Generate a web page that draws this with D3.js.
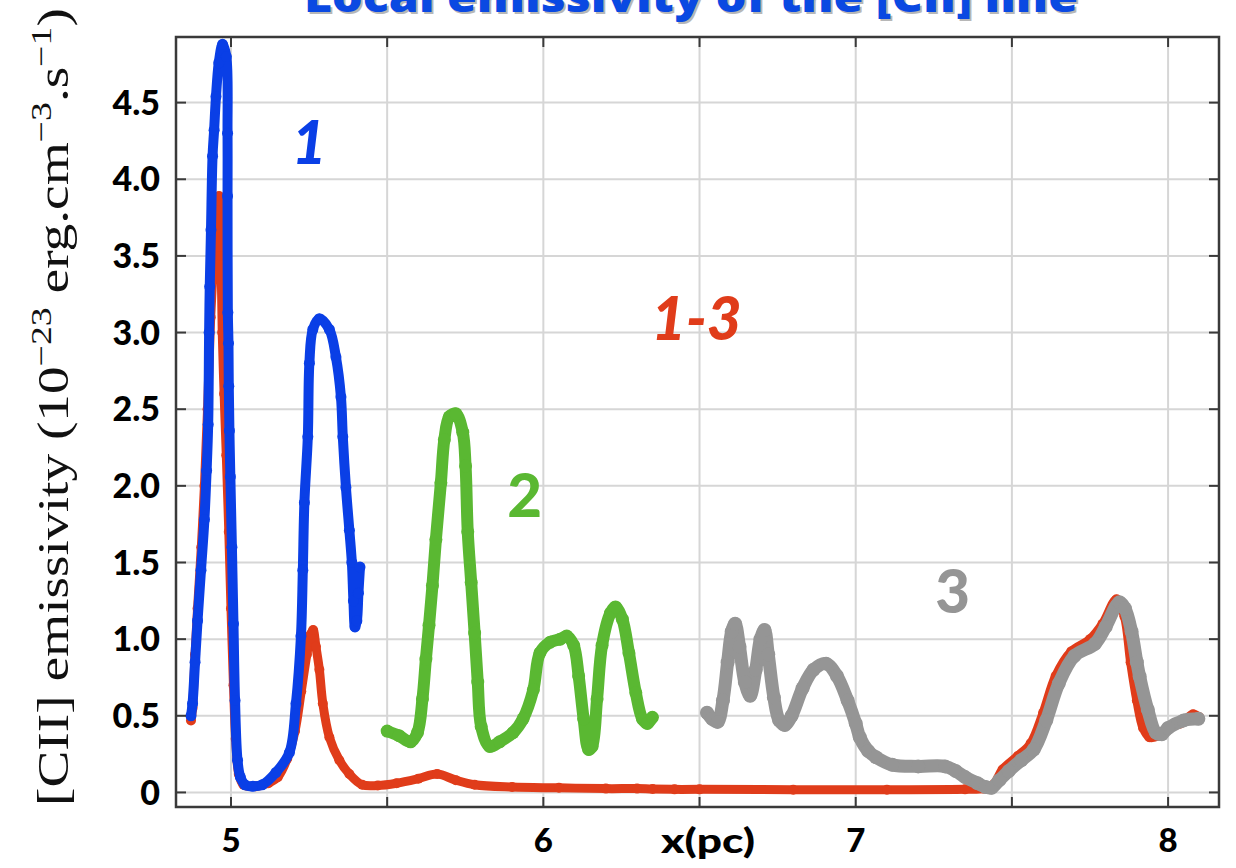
<!DOCTYPE html>
<html>
<head>
<meta charset="utf-8">
<script src="https://cdn.jsdelivr.net/npm/d3@7"></script>
<style>
  html, body { margin: 0; padding: 0; background: #fff; overflow: hidden; }
  svg { display: block; }
</style>
</head>
<body>
<svg id="chart" width="1236" height="868"></svg>
<script>
// ---------- data ----------
const xGridTicks = [5, 5.5, 6, 6.5, 7, 7.5, 8];
const xTickLabels = [5, 6, 7, 8];
const yTicks = [0, 0.5, 1.0, 1.5, 2.0, 2.5, 3.0, 3.5, 4.0, 4.5];
const yTickLabels = ["0", "0.5", "1.0", "1.5", "2.0", "2.5", "3.0", "3.5", "4.0", "4.5"];

// region 1-3 (red, full profile)
const region13 = [
  [4.872,0.47],[4.877,0.55],[4.885,0.9],[4.893,1.2],[4.905,1.6],[4.915,2.0],[4.925,2.5],
  [4.935,3.1],[4.945,3.5],[4.955,3.8],[4.962,3.89],[4.968,3.5],[4.972,3.0],[4.978,2.6],
  [4.985,2.2],[4.993,1.7],[5.0,1.2],[5.008,0.7],[5.015,0.35],[5.025,0.12],[5.04,0.05],
  [5.08,0.04],[5.12,0.06],[5.15,0.1],[5.18,0.22],[5.205,0.4],[5.225,0.66],[5.243,0.9],
  [5.255,1.03],[5.263,1.06],[5.272,0.95],[5.283,0.8],[5.294,0.58],[5.315,0.36],[5.347,0.21],
  [5.379,0.12],[5.42,0.05],[5.47,0.045],[5.53,0.06],[5.6,0.09],[5.66,0.12],[5.72,0.08],
  [5.78,0.05],[5.9,0.035],[6.05,0.03],[6.2,0.025],[6.3,0.025],[6.35,0.022],[6.42,0.02],
  [6.5,0.02],[6.8,0.018],[7.1,0.018],[7.35,0.02],[7.41,0.025],[7.44,0.05],[7.47,0.15],
  [7.52,0.24],[7.56,0.32],[7.60,0.52],[7.64,0.76],[7.69,0.92],[7.75,1.0],[7.79,1.1],
  [7.835,1.26],[7.86,1.15],[7.88,0.85],[7.9,0.6],[7.92,0.42],[7.94,0.36],[7.97,0.37],
  [8.0,0.42],[8.04,0.45],[8.08,0.51],[8.1,0.49]
];

// region 1 (blue)
const region1 = [
  [4.872,0.5],[4.877,0.58],[4.885,0.85],[4.893,1.12],[4.904,1.45],[4.915,1.78],[4.922,2.1],
  [4.927,2.4],[4.93,3.0],[4.932,3.3],[4.936,3.67],[4.941,4.15],[4.946,4.32],[4.952,4.54],
  [4.961,4.76],[4.973,4.88],[4.985,4.8],[4.989,4.3],[4.989,3.89],[4.99,3.13],[4.992,2.93],
  [4.993,2.65],[4.995,2.36],[4.998,2.06],[5.003,1.6],[5.008,1.1],[5.013,0.6],[5.021,0.21],
  [5.03,0.1],[5.045,0.05],[5.07,0.04],[5.1,0.05],[5.144,0.13],[5.187,0.26],[5.208,0.58],
  [5.224,1.02],[5.23,1.45],[5.235,1.89],[5.246,2.32],[5.251,2.8],[5.262,3.02],[5.283,3.09],
  [5.315,3.02],[5.336,2.84],[5.352,2.58],[5.358,2.32],[5.368,1.99],[5.379,1.71],[5.387,1.5],
  [5.392,1.25],[5.397,1.08],[5.403,1.12],[5.408,1.3],[5.413,1.47]
];

// region 2 (green)
const region2 = [
  [5.5,0.40],[5.538,0.37],[5.575,0.33],[5.597,0.39],[5.613,0.61],[5.624,0.87],[5.634,1.09],
  [5.645,1.35],[5.656,1.65],[5.672,2.02],[5.683,2.30],[5.699,2.45],[5.72,2.47],[5.742,2.35],
  [5.751,2.13],[5.758,1.70],[5.769,1.37],[5.78,1.04],[5.79,0.72],[5.801,0.43],[5.828,0.30],
  [5.86,0.33],[5.903,0.39],[5.935,0.48],[5.968,0.67],[5.989,0.91],[6.022,0.98],[6.054,1.0],
  [6.075,1.02],[6.097,0.96],[6.113,0.76],[6.129,0.48],[6.145,0.28],[6.156,0.30],[6.172,0.61],
  [6.188,0.96],[6.215,1.17],[6.231,1.21],[6.253,1.13],[6.274,0.91],[6.296,0.65],[6.317,0.48],
  [6.333,0.45],[6.349,0.49]
];

// region 3 (grey)
const region3 = [
  [6.524,0.52],[6.54,0.48],[6.558,0.46],[6.575,0.6],[6.59,0.85],[6.603,1.05],[6.614,1.1],
  [6.628,0.95],[6.645,0.72],[6.662,0.63],[6.68,0.8],[6.695,1.0],[6.708,1.06],[6.72,0.9],
  [6.738,0.62],[6.755,0.47],[6.773,0.44],[6.795,0.5],[6.83,0.68],[6.865,0.8],[6.905,0.84],
  [6.94,0.76],[6.974,0.6],[7.0,0.45],[7.013,0.36],[7.04,0.27],[7.065,0.23],[7.117,0.18],
  [7.2,0.17],[7.286,0.17],[7.32,0.14],[7.35,0.1],[7.39,0.06],[7.416,0.035],[7.435,0.03],
  [7.46,0.08],[7.49,0.14],[7.53,0.21],[7.57,0.28],[7.61,0.47],[7.65,0.71],[7.70,0.89],
  [7.766,0.97],[7.8,1.08],[7.844,1.24],[7.862,1.2],[7.883,1.05],[7.9,0.85],[7.909,0.756],
  [7.935,0.54],[7.961,0.39],[7.98,0.38],[8.0,0.42],[8.05,0.47],[8.097,0.48]
];

const regionLabels = [
  {text: "1",   x: 5.25,  y: 4.1,  color: "#0a3fe6", italic: true},
  {text: "1-3", x: 6.49,  y: 2.95, color: "#e03c1a", italic: true},
  {text: "2",   x: 5.94,  y: 1.8,  color: "#5ab832", italic: false},
  {text: "3",   x: 7.31,  y: 1.17, color: "#959595", italic: false}
];

// ---------- layout ----------
const svg = d3.select("#chart");
const frame = {left: 176, right: 1219, top: 37, bottom: 807};
const x = d3.scaleLinear().domain([4.824, 8.163]).range([frame.left, frame.right]);
const y = d3.scaleLinear().domain([-0.095, 4.928]).range([frame.bottom, frame.top]);

// title (partly cut off at top, as in the reference)
const titleText = "Local emissivity of the [CII] line";
svg.append("text").attr("x", 693).attr("y", 14)
  .attr("text-anchor", "middle").attr("font-family", "Open Sans, sans-serif")
  .attr("font-weight", 800).attr("font-size", 42)
  .attr("textLength", 774).attr("lengthAdjust", "spacingAndGlyphs")
  .attr("fill", "#888").attr("opacity", 0.6).text(titleText);
svg.append("text").attr("x", 691).attr("y", 12)
  .attr("text-anchor", "middle").attr("font-family", "Open Sans, sans-serif")
  .attr("font-weight", 800).attr("font-size", 42)
  .attr("textLength", 774).attr("lengthAdjust", "spacingAndGlyphs")
  .attr("fill", "#0a49e2").text(titleText);

// grid
const g = svg.append("g");
g.selectAll("line.vg").data(xGridTicks).join("line")
  .attr("x1", d => x(d)).attr("x2", d => x(d))
  .attr("y1", frame.top).attr("y2", frame.bottom)
  .attr("stroke", "#d6d6d6").attr("stroke-width", 2);
g.selectAll("line.hg").data(yTicks).join("line")
  .attr("y1", d => y(d)).attr("y2", d => y(d))
  .attr("x1", frame.left).attr("x2", frame.right)
  .attr("stroke", "#d6d6d6").attr("stroke-width", 2);

// series
const line = d3.line().x(d => x(d[0])).y(d => y(d[1])).curve(d3.curveCatmullRom.alpha(0.5));
svg.append("defs").append("clipPath").attr("id", "plotclip")
  .append("rect").attr("x", frame.left).attr("y", frame.top)
  .attr("width", frame.right - frame.left).attr("height", frame.bottom - frame.top);
const series = [
  {data: region13, color: "#e03c1a", w: 9},
  {data: region1,  color: "#0a3fe6", w: 10},
  {data: region2,  color: "#5ab832", w: 12},
  {data: region3,  color: "#959595", w: 13}
];
const sg = svg.append("g").attr("clip-path", "url(#plotclip)");
series.forEach(s => {
  sg.append("path").datum(s.data).attr("d", line)
    .attr("fill", "none").attr("stroke", s.color).attr("stroke-width", s.w)
    .attr("stroke-linejoin", "round").attr("stroke-linecap", "round");
  sg.selectAll(null).data(s.data).join("circle")
    .attr("cx", d => x(d[0])).attr("cy", d => y(d[1])).attr("r", s.w / 2 + 0.5)
    .attr("fill", s.color);
});

// frame
svg.append("rect").attr("x", frame.left).attr("y", frame.top)
  .attr("width", frame.right - frame.left).attr("height", frame.bottom - frame.top)
  .attr("fill", "none").attr("stroke", "#3a3a3a").attr("stroke-width", 2.5);

// ticks (inward) on all sides
const tk = 10;
const tg = svg.append("g").attr("stroke", "#3a3a3a").attr("stroke-width", 2);
xGridTicks.forEach(v => {
  tg.append("line").attr("x1", x(v)).attr("x2", x(v)).attr("y1", frame.bottom).attr("y2", frame.bottom - tk);
  tg.append("line").attr("x1", x(v)).attr("x2", x(v)).attr("y1", frame.top).attr("y2", frame.top + tk);
});
yTicks.forEach(v => {
  tg.append("line").attr("y1", y(v)).attr("y2", y(v)).attr("x1", frame.left).attr("x2", frame.left + tk);
  tg.append("line").attr("y1", y(v)).attr("y2", y(v)).attr("x1", frame.right).attr("x2", frame.right - tk);
});

// y tick labels
svg.append("g").selectAll("text").data(yTicks).join("text")
  .attr("x", 160).attr("y", d => y(d)).attr("dy", "0.36em")
  .attr("text-anchor", "end").attr("font-family", "Lato, sans-serif")
  .attr("font-weight", 900).attr("font-size", 34).attr("fill", "#000")
  .text((d, i) => yTickLabels[i]);

// x tick labels
svg.append("g").selectAll("text").data(xTickLabels).join("text")
  .attr("x", d => x(d)).attr("y", 852)
  .attr("text-anchor", "middle").attr("font-family", "Lato, sans-serif")
  .attr("font-weight", 900).attr("font-size", 33).attr("fill", "#000")
  .text(d => d);

// x axis title
svg.append("text").attr("x", 708).attr("y", 853)
  .attr("text-anchor", "middle").attr("font-family", "Lato, sans-serif")
  .attr("font-weight", 900).attr("font-size", 34).attr("fill", "#000")
  .attr("textLength", 94).attr("lengthAdjust", "spacingAndGlyphs")
  .text("x(pc)");

// y axis title (rotated, serif, with superscripts), stretched along its run to the reference length
const ytG = svg.append("g").attr("transform", "translate(68,806) rotate(-90)");
const yt = ytG.append("text")
  .attr("font-family", "Liberation Serif, serif").attr("font-size", 44).attr("fill", "#111");
yt.append("tspan").text("[CII] emissivity (10");
yt.append("tspan").attr("dy", -17).attr("font-size", 30).text("\u221223");
yt.append("tspan").attr("dy", 17).text(" erg.cm");
yt.append("tspan").attr("dy", -17).attr("font-size", 30).text("\u22123");
yt.append("tspan").attr("dy", 17).text(".s");
yt.append("tspan").attr("dy", -17).attr("font-size", 30).text("\u22121");
yt.append("tspan").attr("dy", 17).text(")");
const ytLen = yt.node().getComputedTextLength();
const targetLen = 798;
yt.attr("transform", `scale(${targetLen / ytLen},1)`);

// region labels
svg.append("g").selectAll("text").data(regionLabels).join("text")
  .attr("x", d => x(d.x)).attr("y", d => y(d.y))
  .attr("text-anchor", "middle").attr("font-family", "Lato, sans-serif")
  .attr("font-weight", 900).attr("font-size", 60)
  .attr("font-style", d => d.italic ? "italic" : "normal")
  .attr("fill", d => d.color).text(d => d.text);
</script>
</body>
</html>
